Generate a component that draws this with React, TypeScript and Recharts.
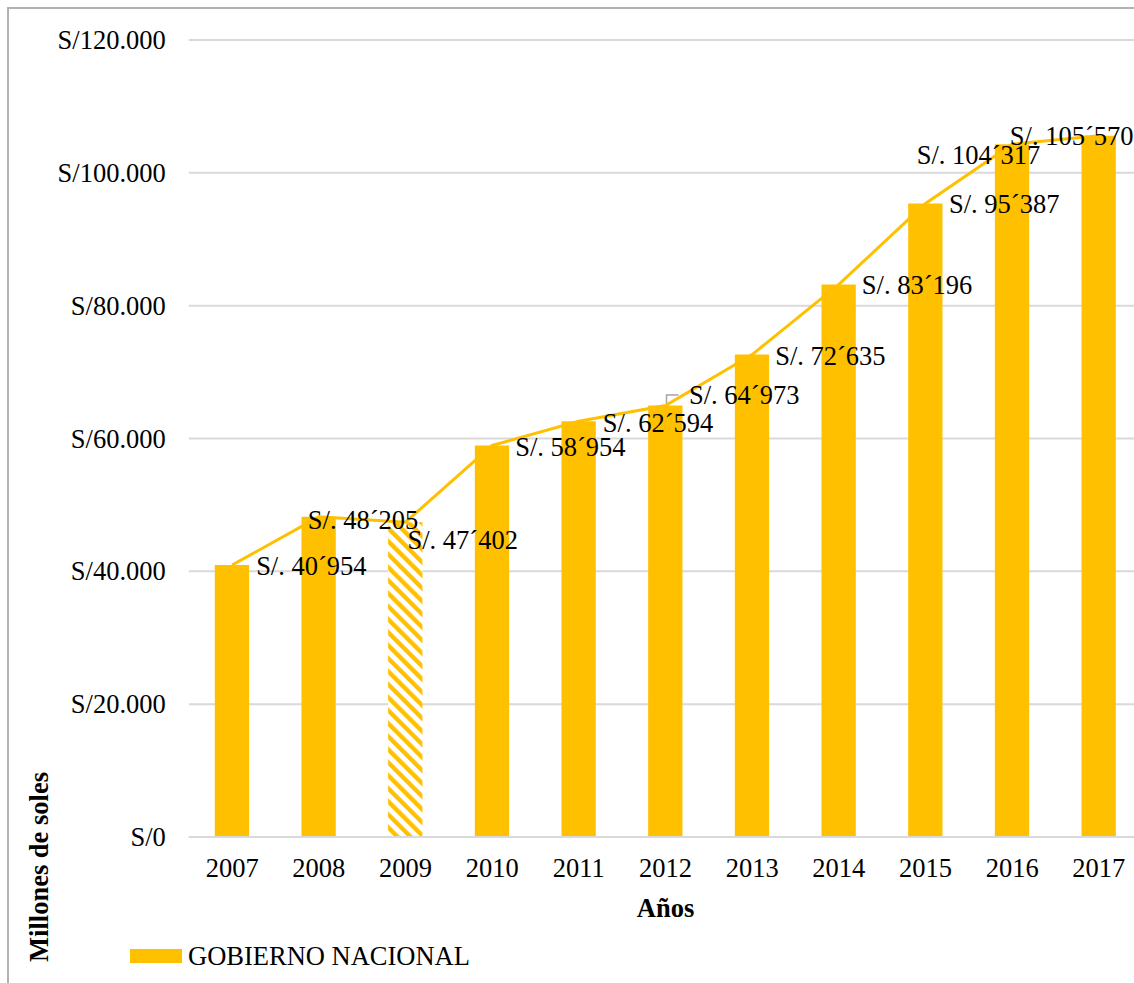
import React from 'react';
import {
  ComposedChart,
  Bar,
  Line,
  XAxis,
  YAxis,
  CartesianGrid,
  Cell,
  LabelList,
  Legend,
} from 'recharts';

const years = ['2007', '2008', '2009', '2010', '2011', '2012', '2013', '2014', '2015', '2016', '2017'];
const gobiernoNacional = [40954, 48205, 47402, 58954, 62594, 64973, 72635, 83196, 95387, 104317, 105570];
const yTicks = [0, 20000, 40000, 60000, 80000, 100000, 120000];
const hatchedYears = ['2009'];
const seriesName = 'GOBIERNO NACIONAL';
const xTitle = 'Años';
const yTitle = 'Millones de soles';

// label nudges (relative to the data point), kept apart from the data
const labelNudges = [
  { dx: 24, dy: 1 },
  { dx: -11, dy: 3 },
  { dx: 2, dy: 18 },
  { dx: 23, dy: 1.5 },
  { dx: 24, dy: 1.5 },
  { dx: 23.5, dy: -10, leader: true },
  { dx: 23, dy: 1.5 },
  { dx: 23, dy: 0.5 },
  { dx: 23.5, dy: 0.5 },
  { dx: -95.5, dy: 11 },
  { dx: -89, dy: 0 },
];

const data = years.map((year, i) => ({ year, value: gobiernoNacional[i] }));

const FONT = "'Liberation Serif', 'Times New Roman', serif";
const FS = 26.5;
const GOLD = '#FFC000';

const fmtAxis = (v: number) => {
  if (v === 0) return 'S/0';
  const th = Math.floor(v / 1000);
  const rest = String(v % 1000).padStart(3, '0');
  return `S/${th}.${rest}`;
};

const fmtLabel = (v: number) => {
  const th = Math.floor(v / 1000);
  const rest = String(v % 1000).padStart(3, '0');
  return `S/. ${th}\u00B4${rest}`;
};

const YTick = (props: any) => {
  const { x, y, payload } = props;
  return (
    <text x={x - 23} y={y} dy={9} textAnchor="end" fontFamily={FONT} fontSize={FS} fill="#000">
      {fmtAxis(payload.value)}
    </text>
  );
};

const XTick = (props: any) => {
  const { x, y, payload } = props;
  return (
    <text x={x} y={y + 40} textAnchor="middle" fontFamily={FONT} fontSize={FS} fill="#000">
      {payload.value}
    </text>
  );
};

const ValueLabel = (props: any) => {
  const { x, y, value, index } = props;
  const n = labelNudges[index] || { dx: 24, dy: 0 };
  return (
    <g>
      {n.leader ? (
        <polyline
          points={`${x + 1},${y - 2} ${x + 1},${y - 10.5} ${x + 13},${y - 10.5}`}
          fill="none"
          stroke="#a6a6a6"
          strokeWidth={1.5}
        />
      ) : null}
      <text x={x + n.dx} y={y + n.dy + 9} fontFamily={FONT} fontSize={FS} fill="#000">
        {fmtLabel(value)}
      </text>
    </g>
  );
};

const XTitle = (props: any) => {
  const vb = props.viewBox || { x: 0, y: 0, width: 0, height: 0 };
  return (
    <text
      x={vb.x + vb.width / 2}
      y={vb.y + 80}
      textAnchor="middle"
      fontFamily={FONT}
      fontSize={FS}
      fontWeight="bold"
      fill="#000"
    >
      {xTitle}
    </text>
  );
};

const YTitle = (props: any) => {
  const vb = props.viewBox || { x: 0, y: 0, width: 0, height: 0 };
  const cx = vb.x + 48;
  const cy = vb.y + vb.height + 30;
  return (
    <text
      x={cx}
      y={cy}
      transform={`rotate(-90, ${cx}, ${cy})`}
      textAnchor="middle"
      fontFamily={FONT}
      fontSize={FS}
      fontWeight="bold"
      fill="#000"
    >
      {yTitle}
    </text>
  );
};

const LegendContent = () => (
  <div style={{ display: 'flex', alignItems: 'center', fontFamily: FONT, fontSize: FS, lineHeight: '30px', color: '#000', whiteSpace: 'nowrap' }}>
    <span style={{ display: 'inline-block', width: 52, height: 14, background: GOLD, marginRight: 6 }} />
    <span>{seriesName}</span>
  </div>
);

export default function App() {
  return (
    <div
      style={{
        position: 'fixed',
        left: 0,
        top: 0,
        width: 1134,
        height: 983,
        overflow: 'hidden',
        background: '#fff',
      }}
    >
      <div
        style={{
          position: 'absolute',
          left: 7,
          top: 7,
          width: 1300,
          height: 1200,
          borderLeft: '2px solid #b2b2b2',
          borderTop: '2px solid #b2b2b2',
        }}
      />
      <div style={{ position: 'absolute', left: 0, top: 0 }}>
        <ComposedChart
          width={1160}
          height={983}
          data={data}
          margin={{ top: 40, right: 17.8, bottom: 0, left: 0 }}
          barCategoryGap="10%"
        >
          <defs>
            <pattern
              id="hatch2009"
              patternUnits="userSpaceOnUse"
              width={9.2}
              height={9.2}
              patternTransform="rotate(-45)"
            >
              <rect x={0} y={0} width={9.2} height={9.2} fill="#ffffff" />
              <rect x={0} y={0} width={4.4} height={9.2} fill={GOLD} />
            </pattern>
          </defs>
          <CartesianGrid horizontal vertical={false} stroke="#d9d9d9" strokeWidth={2} />
          <XAxis
            dataKey="year"
            height={146}
            tickSize={0}
            tickMargin={0}
            tickLine={false}
            axisLine={{ stroke: '#d9d9d9', strokeWidth: 2 }}
            tick={<XTick />}
            interval={0}
            label={<XTitle />}
          />
          <YAxis
            width={188.8}
            domain={[0, 120000]}
            ticks={yTicks}
            tickSize={0}
            tickMargin={0}
            tickLine={false}
            axisLine={false}
            tick={<YTick />}
            interval={0}
            label={<YTitle />}
          />
          <Legend
            layout="vertical"
            align="center"
            verticalAlign="middle"
            content={<LegendContent />}
            wrapperStyle={{ left: 130, top: 941, width: 'auto', height: 'auto' }}
          />
          <Bar dataKey="value" name={seriesName} barSize={34.3} fill={GOLD} isAnimationActive={false}>
            {data.map((d) => (
              <Cell key={d.year} fill={hatchedYears.includes(d.year) ? 'url(#hatch2009)' : GOLD} />
            ))}
          </Bar>
          <Line
            dataKey="value"
            type="linear"
            stroke={GOLD}
            strokeWidth={3}
            dot={false}
            activeDot={false}
            legendType="none"
            isAnimationActive={false}
          >
            <LabelList dataKey="value" content={<ValueLabel />} />
          </Line>
        </ComposedChart>
      </div>
    </div>
  );
}
